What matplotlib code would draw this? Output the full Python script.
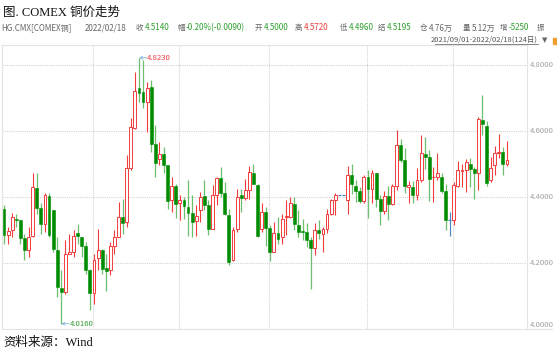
import numpy as np
import matplotlib.pyplot as plt
from matplotlib.lines import Line2D
from matplotlib.patches import Rectangle

# COMEX copper daily OHLC, 2021/09/01 - 2022/02/18 (124 trading days)
opens = [4.365, 4.286, 4.300, 4.335, 4.330, 4.277, 4.241, 4.282, 4.428, 4.368,
         4.318, 4.403, 4.360, 4.241, 4.125, 4.112, 4.229, 4.234, 4.292, 4.279,
         4.251, 4.178, 4.109, 4.217, 4.241, 4.184, 4.178, 4.252, 4.279, 4.340,
         4.325, 4.490, 4.609, 4.730, 4.718, 4.690, 4.735, 4.563, 4.517, 4.530,
         4.497, 4.391, 4.434, 4.381, 4.391, 4.370, 4.352, 4.329, 4.362, 4.403,
         4.376, 4.305, 4.406, 4.457, 4.413, 4.345, 4.208, 4.303, 4.406, 4.398,
         4.421, 4.472, 4.438, 4.305, 4.355, 4.308, 4.234, 4.292, 4.279, 4.340,
         4.340, 4.379, 4.317, 4.298, 4.293, 4.269, 4.247, 4.302, 4.289, 4.303,
         4.350, 4.393, 4.406, 4.406, 4.393, 4.467, 4.434, 4.419, 4.389, 4.462,
         4.426, 4.474, 4.394, 4.358, 4.403, 4.378, 4.434, 4.558, 4.512, 4.431,
         4.431, 4.406, 4.452, 4.531, 4.522, 4.460, 4.460, 4.460, 4.419, 4.330,
         4.330, 4.434, 4.480, 4.482, 4.502, 4.485, 4.474, 4.634, 4.617, 4.452,
         4.497, 4.533, 4.538, 4.500]
highs = [4.376, 4.310, 4.352, 4.348, 4.331, 4.289, 4.310, 4.472, 4.472, 4.381,
         4.413, 4.413, 4.362, 4.279, 4.178, 4.269, 4.289, 4.302, 4.320, 4.280,
         4.264, 4.183, 4.229, 4.305, 4.244, 4.229, 4.264, 4.300, 4.386, 4.396,
         4.528, 4.639, 4.781, 4.823, 4.816, 4.750, 4.757, 4.619, 4.568, 4.553,
         4.498, 4.462, 4.441, 4.406, 4.401, 4.452, 4.406, 4.376, 4.416, 4.452,
         4.391, 4.436, 4.462, 4.492, 4.446, 4.365, 4.310, 4.426, 4.426, 4.454,
         4.494, 4.502, 4.441, 4.383, 4.370, 4.315, 4.325, 4.340, 4.350, 4.393,
         4.401, 4.401, 4.360, 4.335, 4.322, 4.279, 4.322, 4.330, 4.310, 4.365,
         4.396, 4.413, 4.406, 4.406, 4.494, 4.500, 4.452, 4.431, 4.467, 4.482,
         4.482, 4.475, 4.406, 4.419, 4.433, 4.441, 4.603, 4.578, 4.548, 4.450,
         4.450, 4.490, 4.588, 4.583, 4.543, 4.492, 4.535, 4.472, 4.441, 4.355,
         4.446, 4.510, 4.502, 4.517, 4.520, 4.492, 4.644, 4.710, 4.632, 4.522,
         4.555, 4.591, 4.553, 4.572]
lows = [4.257, 4.257, 4.279, 4.310, 4.257, 4.208, 4.219, 4.279, 4.350, 4.289,
        4.294, 4.279, 4.234, 4.097, 4.016, 4.107, 4.228, 4.219, 4.259, 4.219,
        4.168, 4.058, 4.077, 4.178, 4.168, 4.115, 4.163, 4.229, 4.278, 4.289,
        4.310, 4.482, 4.606, 4.690, 4.671, 4.598, 4.538, 4.462, 4.497, 4.472,
        4.365, 4.355, 4.338, 4.330, 4.335, 4.281, 4.279, 4.281, 4.325, 4.360,
        4.286, 4.304, 4.376, 4.401, 4.345, 4.193, 4.207, 4.294, 4.355, 4.393,
        4.396, 4.439, 4.279, 4.294, 4.252, 4.206, 4.233, 4.259, 4.257, 4.284,
        4.338, 4.300, 4.279, 4.269, 4.249, 4.122, 4.224, 4.274, 4.234, 4.291,
        4.345, 4.345, 4.406, 4.406, 4.348, 4.409, 4.386, 4.383, 4.381, 4.338,
        4.381, 4.370, 4.315, 4.350, 4.332, 4.376, 4.421, 4.507, 4.413, 4.383,
        4.381, 4.393, 4.446, 4.487, 4.389, 4.386, 4.452, 4.413, 4.300, 4.281,
        4.315, 4.431, 4.431, 4.416, 4.431, 4.396, 4.421, 4.588, 4.434, 4.446,
        4.467, 4.520, 4.467, 4.496]
closes = [4.284, 4.298, 4.340, 4.330, 4.277, 4.239, 4.279, 4.431, 4.367, 4.318,
          4.406, 4.284, 4.242, 4.127, 4.112, 4.227, 4.233, 4.281, 4.281, 4.252,
          4.180, 4.109, 4.210, 4.239, 4.182, 4.176, 4.251, 4.279, 4.340, 4.323,
          4.490, 4.612, 4.722, 4.715, 4.688, 4.732, 4.561, 4.505, 4.530, 4.499,
          4.389, 4.434, 4.378, 4.391, 4.374, 4.352, 4.325, 4.343, 4.401, 4.375,
          4.305, 4.406, 4.457, 4.413, 4.348, 4.203, 4.302, 4.401, 4.398, 4.421,
          4.477, 4.441, 4.281, 4.355, 4.308, 4.234, 4.291, 4.272, 4.335, 4.342,
          4.381, 4.318, 4.294, 4.294, 4.269, 4.247, 4.300, 4.291, 4.305, 4.350,
          4.391, 4.406, 4.406, 4.406, 4.467, 4.439, 4.419, 4.389, 4.462, 4.424,
          4.472, 4.396, 4.357, 4.403, 4.378, 4.434, 4.558, 4.514, 4.434, 4.436,
          4.406, 4.452, 4.533, 4.522, 4.455, 4.462, 4.474, 4.419, 4.330, 4.330,
          4.436, 4.482, 4.484, 4.507, 4.485, 4.474, 4.637, 4.622, 4.444, 4.490,
          4.533, 4.538, 4.502, 4.514]

month_starts = [22, 43, 65, 89, 110]   # first trading day of Oct, Nov, Dec, Jan, Feb
y_ticks = [4.0, 4.2, 4.4, 4.6, 4.8]

title = "图. COMEX 铜价走势"
source = "资料来源：Wind"
date_range = "2021/09/01-2022/02/18(124日)"
# quote bar: (label, value) pairs; empty label = plain text
quote_labels = ["", "", "收", "幅", "开", "高", "低", "结", "仓", "量", "增", "振"]
quote_values = ["HG.CMX[COMEX铜]", "2022/02/18", "4.5140", "-0.20%(-0.0090)", "4.5000",
                "4.5720", "4.4960", "4.5195", "4.76万", "5.12万", "-5250", ""]

RED = "#f23c3c"
GREEN = "#008c00"
GREEN_WICK = "#6cbf6c"
BLUE = "#4a86c0"
GRAY = "#666666"
HDR_GREEN = "#2e9e2e"

quote_colors = [GRAY, GRAY, HDR_GREEN, HDR_GREEN, HDR_GREEN, RED, HDR_GREEN, HDR_GREEN,
                GRAY, GRAY, HDR_GREEN, GRAY]
quote_x = [1, 85, 136, 177, 255, 295, 340, 378, 420, 463, 500, 537]

CJK = ["Noto Sans CJK SC", "DejaVu Sans"]
SERIF = ["Liberation Serif", "Noto Sans CJK SC"]

W, H = 557, 354
fig = plt.figure(figsize=(W / 100, H / 100), dpi=100)
ax = fig.add_axes([2 / W, 25 / H, 525 / W, 284 / H])

o = np.array(opens)
h = np.array(highs)
l = np.array(lows)
c = np.array(closes)
x = np.arange(len(o))
up = c > o
down = c < o
flat = c == o

grid_kw = dict(color="#d4d4d4", lw=0.8, linestyle=(0, (1, 1)), zorder=0)
for v in y_ticks[1:]:
    ax.axhline(v, **grid_kw)
for m in month_starts:
    ax.axvline(m - 0.2, **grid_kw)

ax.vlines(x[up], l[up], h[up], color=RED, lw=0.8, zorder=2)
ax.vlines(x[down], l[down], h[down], color=GREEN_WICK, lw=0.9, zorder=2)
ax.vlines(x[flat], l[flat], h[flat], color=BLUE, lw=0.8, zorder=2)
ax.bar(x[up], c[up] - o[up], bottom=o[up], width=0.7, color="white",
       edgecolor=RED, linewidth=0.7, zorder=3)
ax.bar(x[down], o[down] - c[down], bottom=c[down], width=0.7, color=GREEN,
       edgecolor=GREEN, linewidth=0.4, zorder=3)
ax.hlines(o[flat], x[flat] - 0.4, x[flat] + 0.4, color=BLUE, lw=0.9, zorder=3)

# max / min markers
imax = int(np.argmax(h))
imin = int(np.argmin(l))
for idx, val, col in [(imax, h[imax], RED), (imin, l[imin], HDR_GREEN)]:
    ax.annotate("", xy=(idx, val), xytext=(idx + 1.9, val),
                arrowprops=dict(arrowstyle="->", color="#7fb3d9", lw=0.6,
                                shrinkA=0, shrinkB=0, mutation_scale=5))
    ax.text(idx + 2.0, val, f"{val:.4f}", color=col, fontsize=5.6,
            va="center", ha="left", family=CJK)

ax.set_xlim(-0.5, 127.9)
ax.set_ylim(4.0, 4.862)
ax.set_xticks([])
ax.set_yticks([])
for s in ax.spines.values():
    s.set_color("#e4e4e4")
    s.set_linewidth(0.8)

ytr = ax.get_yaxis_transform()
for v in y_ticks:
    ax.text(1.006, v, f"{v:.4f}", transform=ytr, fontsize=5.6, color="#a0a0a0",
            va="bottom" if v == y_ticks[0] else "center", ha="left", family=CJK)

fig.add_artist(Line2D([527 / W, 552 / W], [25 / H, 25 / H], color="#e4e4e4", lw=0.8))

# header texts
fig.text(3 / W, 1 - 13 / H, title, fontsize=9, family=SERIF, va="center", ha="left",
         color="#111111")
renderer = fig.canvas.get_renderer()
for lab, val, xp, col in zip(quote_labels, quote_values, quote_x, quote_colors):
    xv = xp
    if lab:
        t = fig.text(xp / W, 1 - 28 / H, lab, fontsize=5.4, family=CJK, color=GRAY,
                     va="center", ha="left")
        xv = xp + t.get_window_extent(renderer).width + 1
    if val:
        fig.text(xv / W, 1 - 28 / H, val, fontsize=5.8, family=CJK, color=col,
                 va="center", ha="left")
fig.text(538 / W, 1 - 40 / H, date_range, fontsize=5.4, family=CJK, color="#555555",
         va="center", ha="right")
fig.add_artist(Line2D([435 / W, 538 / W], [1 - 44 / H, 1 - 44 / H], color="#555555", lw=0.5))
fig.text(545 / W, 1 - 40 / H, "▼", fontsize=5, family=["DejaVu Sans"], color="#666666",
         va="center", ha="center")
fig.add_artist(Rectangle((553 / W, 1 - 44 / H), 5 / W, 6 / H, color="#f0a030"))

fig.text(3 / W, 1 - 343 / H, source, fontsize=9, family=SERIF, va="center", ha="left",
         color="#111111")

fig.savefig("out.png", dpi=100)
